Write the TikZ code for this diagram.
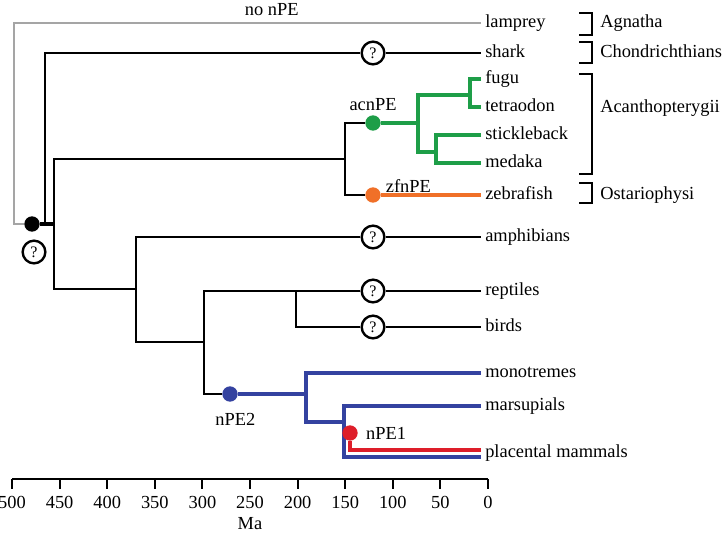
\documentclass[tikz,border=0pt]{standalone}
\usepackage{fontspec}
\setmainfont{Liberation Serif}
\usepackage{xcolor}
\usepackage{tikz}
\usetikzlibrary{positioning,backgrounds}

\definecolor{lostgray}{RGB}{165,165,165}
\definecolor{acngreen}{RGB}{30,158,72}
\definecolor{zfnorange}{RGB}{240,112,40}
\definecolor{npeblue}{RGB}{52,66,160}
\definecolor{npered}{RGB}{222,30,42}

\begin{document}
\begin{tikzpicture}[
    x=0.75pt, y=-0.75pt,
    every node/.style={font=\fontsize{13.8}{16}\selectfont},
    leaf/.style={anchor=west, inner sep=3pt, text height=8pt, text depth=1.6pt},
    clade/.style={anchor=west, inner sep=0pt, text height=8pt, text depth=1.6pt},
    tag/.style={inner sep=2pt},
    evdot/.style={circle, minimum size=11.5pt, inner sep=0pt},
    qmark/.style={circle, draw, line width=1.8pt, fill=white, minimum size=17pt, inner sep=0pt, font=\fontsize{12}{12}\selectfont},
    branch/.style={line width=1.5pt},
    stub/.style={line width=3pt},
    lost/.style={draw=lostgray, line width=1.6pt},
    acn/.style={draw=acngreen, line width=3.2pt},
    zfn/.style={draw=zfnorange, line width=3.4pt},
    npetwo/.style={draw=npeblue, line width=3.4pt},
    npeone/.style={draw=npered, line width=3pt},
    bracket/.style={line width=1.5pt},
    axis/.style={line width=1.5pt}
]
\useasboundingbox (0,0) rectangle (723,535);

% taxa
\node[leaf] (lamprey) at (481,23) {lamprey};
\node[leaf] (shark) at (481,53) {shark};
\node[leaf] (fugu) at (481,79) {fugu};
\node[leaf] (tetraodon) at (481,107) {tetraodon};
\node[leaf] (stickleback) at (481,135) {stickleback};
\node[leaf] (medaka) at (481,163) {medaka};
\node[leaf] (zebrafish) at (481,195) {zebrafish};
\node[leaf] (amphibians) at (481,237) {amphibians};
\node[leaf] (reptiles) at (481,291) {reptiles};
\node[leaf] (birds) at (481,327) {birds};
\node[leaf] (monotremes) at (481,373) {monotremes};
\node[leaf] (marsupials) at (481,406) {marsupials};
\node[leaf] (placental) at (481,453.5) {placental mammals};
\coordinate (placental_red) at (481,450);
\coordinate (placental_blue) at (481,457);

% groups
\node[clade] (agnatha) at (600,23) {Agnatha};
\node[clade] (chondr) at (600,53) {Chondrichthians};
\node[clade] (acanthopt) at (600,108) {Acanthopterygii};
\node[clade] (ostario) at (600,195) {Ostariophysi};
\draw[bracket] (579,13) -| (592,35) -- (579,35);
\draw[bracket] (579,42) -| (592,63) -- (579,63);
\draw[bracket] (579,74) -| (592,174) -- (579,174);
\draw[bracket] (579,183) -| (592,203) -- (579,203);

% gains of nPE
\node[evdot, fill=black] (root) at (32,224) {};
\node[evdot, fill=acngreen] (acn_dot) at (373,123) {};
\node[evdot, fill=zfnorange] (zfn_dot) at (373,195) {};
\node[evdot, fill=npeblue] (npe2_dot) at (230,394) {};
\node[evdot, fill=npered] (npe1_dot) at (350,433) {};

\node[tag, above=1pt of acn_dot] (acn_tag) {acnPE};
\node[tag, anchor=base west] (zfn_tag) at (383,192) {zfnPE};
\node[tag, below=6pt of npe2_dot, xshift=4pt] (npe2_tag) {nPE2};
\node[tag, right=4pt of npe1_dot] (npe1_tag) {nPE1};

% unknown status
\node[qmark] (root_q) at (34,252) {?};
\node[qmark] (shark_q) at (373,53) {?};
\node[qmark] (amphib_q) at (373,237) {?};
\node[qmark] (rept_q) at (373,291) {?};
\node[qmark] (birds_q) at (373,327) {?};

% splits
\coordinate (agnatha_turn) at (14,224);
\coordinate (chondr_split) at (45,224);
\coordinate (gnatho) at (54,224);
\coordinate (actino) at (345,159);
\coordinate (acanth) at (418,123);
\coordinate (puffer) at (470,95);
\coordinate (stick_med) at (436,152);
\coordinate (tetrapod) at (136,289);
\coordinate (amniote) at (204,342);
\coordinate (sauropsid) at (296,291);
\coordinate (mammal) at (306,394);
\coordinate (therian) at (344,422);

\begin{scope}[on background layer]
\draw[lost] (root) -- (agnatha_turn) |- node[pos=0.776, above=1pt] (no_tag) {no nPE} (lamprey);
\draw[stub] (root) -- (gnatho);
\draw[branch] (chondr_split) |- (shark_q);
\draw[branch] (shark_q) -- (shark);
\draw[branch] (actino) -| (gnatho) |- (tetrapod);
\draw[branch] (acn_dot) -| (actino) |- (zfn_dot);
\draw[acn] (acn_dot) -- (acanth);
\draw[acn] (acanth) |- (puffer);
\draw[acn] (acanth) |- (stick_med);
\draw[acn] (fugu) -| (puffer) |- (tetraodon);
\draw[acn] (stickleback) -| (stick_med) |- (medaka);
\draw[zfn] (zfn_dot) -- (zebrafish);
\draw[branch] (amphib_q) -| (tetrapod) |- (amniote);
\draw[branch] (amphib_q) -- (amphibians);
\draw[branch] (rept_q) -| (amniote) |- (npe2_dot);
\draw[branch] (rept_q) -- (reptiles);
\draw[branch] (birds_q) -| (sauropsid);
\draw[branch] (birds_q) -- (birds);
\draw[npetwo] (npe2_dot) -- (mammal);
\draw[npetwo] (monotremes) -| (mammal) |- (therian);
\draw[npetwo] (marsupials) -| (therian) |- (placental_blue);
\draw[npeone] (npe1_dot) |- (placental_red);
\end{scope}

% time axis
\draw[axis] (12,479) -- (488,479);
\foreach \t in {0,50,...,500}
  \draw[axis] ({488-0.952*\t},479) -- ++(0,10) node[below=1pt] {\t};
\node (ma_label) at (250,524) {Ma};

\end{tikzpicture}
\end{document}
